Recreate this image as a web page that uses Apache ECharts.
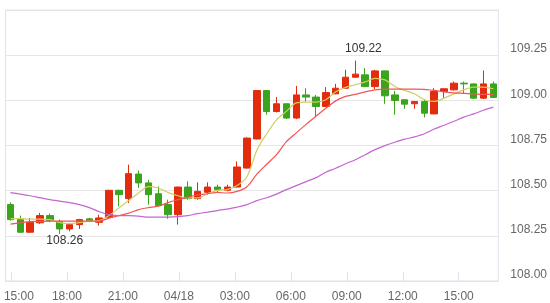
<!DOCTYPE html>
<html><head><meta charset="utf-8">
<script src="https://cdn.jsdelivr.net/npm/echarts@6/dist/echarts.min.js"></script>
<style>html,body{margin:0;padding:0;background:#fff}#c{width:550px;height:303px}</style>
</head><body><div id="c"></div>
<script>
const categories = ['15:00','15:30','16:00','16:30','17:00','17:30','18:00','18:30','19:00','19:30',
'20:00','20:30','21:00','21:30','22:00','22:30','23:00','23:30','00:00','00:30',
'01:00','01:30','02:00','02:30','03:00','03:30','04:00','04:30','05:00','05:30',
'06:00','06:30','07:00','07:30','08:00','08:30','09:00','09:30','10:00','10:30',
'11:00','11:30','12:00','12:30','13:00','13:30','14:00','14:30','15:00','15:30'];

const opens  = [108.423,108.340,108.270,108.322,108.362,108.330,108.288,108.312,108.344,108.325,
108.352,108.502,108.456,108.592,108.543,108.483,108.423,108.367,108.520,108.456,
108.491,108.520,108.502,108.520,108.625,108.786,109.054,108.938,108.981,108.902,
109.030,109.018,108.966,109.036,109.067,109.128,109.141,109.076,109.163,109.030,
109.003,108.981,108.993,108.925,109.049,109.058,109.095,109.091,109.012,109.091];
const closes = [108.340,108.270,108.325,108.362,108.334,108.288,108.312,108.340,108.334,108.349,
108.502,108.478,108.594,108.543,108.478,108.417,108.367,108.520,108.456,108.496,
108.520,108.506,108.520,108.631,108.791,109.054,108.938,108.981,108.902,109.030,
109.018,108.966,109.043,109.067,109.128,109.145,109.076,109.163,109.025,108.999,
108.979,108.993,108.929,109.049,109.064,109.095,109.091,109.012,109.091,109.016];
const lows   = [108.334,108.266,108.268,108.316,108.325,108.260,108.275,108.288,108.326,108.307,
108.350,108.413,108.432,108.515,108.423,108.415,108.344,108.312,108.450,108.450,
108.478,108.491,108.496,108.518,108.622,108.784,108.920,108.933,108.896,108.896,
108.993,108.907,108.964,109.034,109.065,109.126,109.073,109.062,108.981,108.920,
108.953,108.953,108.905,108.923,109.014,109.054,109.040,109.008,109.007,109.014];
const highs  = [108.435,108.362,108.349,108.377,108.373,108.340,108.322,108.344,108.350,108.367,
108.505,108.505,108.644,108.612,108.560,108.524,108.450,108.522,108.551,108.546,
108.546,108.533,108.533,108.662,108.795,109.056,109.056,109.018,108.983,109.080,
109.067,109.030,109.073,109.091,109.169,109.220,109.178,109.169,109.165,109.052,
109.005,108.995,109.003,109.067,109.066,109.104,109.104,109.093,109.165,109.104];

const ma5  = [108.345,108.345,108.343,108.343,108.340,108.323,108.318,108.323,108.331,108.334,
108.362,108.404,108.445,108.487,108.522,108.515,108.489,108.472,108.460,108.460,
108.483,108.502,108.506,108.528,108.577,108.724,108.815,108.892,108.939,108.986,
108.990,108.990,109.003,109.047,109.072,109.086,109.102,109.122,109.113,109.077,
109.055,109.036,109.003,108.994,109.012,109.036,109.058,109.073,109.073,109.064];
const ma10 = [108.315,108.322,108.329,108.330,108.331,108.331,108.331,108.331,108.331,108.331,
108.348,108.362,108.376,108.395,108.406,108.414,108.434,108.450,108.464,108.477,
108.483,108.490,108.487,108.496,108.522,108.591,108.646,108.699,108.771,108.820,
108.867,108.912,108.956,108.997,109.022,109.033,109.047,109.058,109.062,109.062,
109.062,109.062,109.061,109.055,109.047,109.041,109.039,109.036,109.033,109.033];
const ma30 = [108.489,108.481,108.472,108.461,108.450,108.442,108.434,108.423,108.406,108.384,
108.367,108.362,108.362,108.359,108.354,108.354,108.354,108.356,108.362,108.373,
108.381,108.390,108.398,108.409,108.423,108.445,108.461,108.481,108.506,108.528,
108.550,108.572,108.602,108.624,108.649,108.671,108.699,108.727,108.749,108.768,
108.785,108.798,108.815,108.841,108.862,108.884,108.907,108.925,108.945,108.962];

const tickHours  = [0,3,6,9,12,15,18,21,24];
const tickLabels = ['15:00','18:00','21:00','04/18','03:00','06:00','09:00','12:00','15:00'];

const ohlc = opens.map((o,i)=>[o, closes[i], lows[i], highs[i]]);
const FONT = '"Liberation Sans",sans-serif';
const UP = '#e32b0e', DOWN = '#3aa41c', AXIS = '#dde3ec';

const chart = echarts.init(document.getElementById('c'));
chart.setOption({
  animation: false,
  backgroundColor: '#fff',
  textStyle: {fontFamily: FONT},
  grid: {left: 5.5, right: 47.5, top: 10, bottom: 21.5, show: true, borderColor: AXIS, borderWidth: 1},
  xAxis: [
    {type: 'category', data: categories, boundaryGap: true, position: 'top', show: false},
    {type: 'value', position: 'bottom', min: -0.29, max: 26.12,
     axisLine: {show: true, lineStyle: {color: AXIS}},
     axisTick: {show: true, inside: true, length: 9, customValues: tickHours, lineStyle: {color: AXIS}},
     splitLine: {show: false},
     axisLabel: {customValues: tickHours, margin: 10, color: '#666', fontSize: 12, fontFamily: FONT,
       formatter: v => { const k = tickHours.indexOf(v); const t = k >= 0 ? tickLabels[k] : ''; return k === 0 ? '{f|' + t + '}' : t; },
       rich: {f: {padding: [0,0,0,16], color: '#666', fontSize: 12, fontFamily: FONT}}}}
  ],
  yAxis: {type: 'value', position: 'right', min: 108, max: 109.5, interval: 0.25,
    axisLine: {show: false}, axisTick: {show: false},
    splitLine: {lineStyle: {color: '#e6e6e6'}},
    axisLabel: {showMaxLabel: false, verticalAlign: 'bottom', align: 'left', margin: 12, color: '#666', fontSize: 12, fontFamily: FONT,
      formatter: v => v.toFixed(2)}},
  series: [
    {type: 'candlestick', xAxisIndex: 0, data: ohlc, barWidth: 7,
     itemStyle: {color: UP, color0: DOWN, borderColor: UP, borderColor0: DOWN, borderWidth: 1},
     markPoint: {symbol: 'circle', symbolSize: 1, itemStyle: {color: 'rgba(0,0,0,0)'},
       label: {show: true, position: 'inside', color: '#333', fontSize: 12, fontFamily: FONT, formatter: p => Number(p.value).toFixed(2)},
       data: [
         {type: 'max', valueDim: 'highest', label: {offset: [8, -12]}},
         {type: 'min', valueDim: 'lowest', label: {offset: [5, 7]}}
       ]}},
    {type: 'line', xAxisIndex: 0, data: ma5, showSymbol: false, smooth: 0.3, lineStyle: {width: 1.2, color: '#d3cd62'}},
    {type: 'line', xAxisIndex: 0, data: ma10, showSymbol: false, smooth: 0.3, lineStyle: {width: 1.2, color: '#f45454'}},
    {type: 'line', xAxisIndex: 0, data: ma30, showSymbol: false, smooth: 0.3, lineStyle: {width: 1.2, color: '#c466d0'}}
  ]
});
</script></body></html>
